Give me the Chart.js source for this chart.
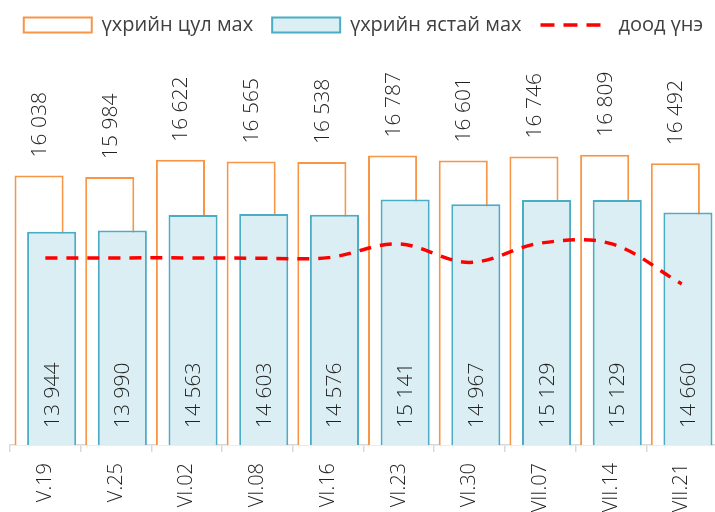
<!DOCTYPE html>
<html>
<head>
<meta charset="utf-8">
<script src="https://cdn.jsdelivr.net/npm/chart.js@4.4.1/dist/chart.umd.min.js"></script>
<style>
  html, body { margin: 0; padding: 0; overflow: hidden; background: #fff; }
  #wrap { width: 727px; height: 512px; }
</style>
</head>
<body>
<div id="wrap"><canvas id="chart" width="727" height="512"></canvas></div>
<script>
// weekly meat prices
const CATEGORIES = ['V.19', 'V.25', 'VI.02', 'VI.08', 'VI.16', 'VI.23', 'VI.30', 'VII.07', 'VII.14', 'VII.21'];
const BONELESS = [16038, 15984, 16622, 16565, 16538, 16787, 16601, 16746, 16809, 16492];
const BONE_IN = [13944, 13990, 14563, 14603, 14576, 15141, 14967, 15129, 15129, 14660];
const MIN_PRICE = [12970, 12970, 12970, 12960, 12980, 13490, 12800, 13520, 13500, 12000];

const TEXT = '#404040';
const NUM_TEXT = '#222222';
const ORANGE = '#F79646';
const BLUE = '#4BACC6';
const BLUE_FILL = '#DAEEF3';
const RED = '#FF0000';
const FONT = "'Open Sans', sans-serif";

Chart.defaults.font.family = FONT;
Chart.defaults.color = TEXT;

const fmt = v => String(v).replace(/\B(?=(\d{3})+(?!\d))/g, ' ');

function drawUp(ctx, text, x, y) {
  ctx.save();
  ctx.translate(x, y);
  ctx.rotate(-Math.PI / 2);
  ctx.fillText(text, 0, 0);
  ctx.restore();
}

// blue bars sit on the right but must be drawn over the orange ones
const blueOnTop = {
  id: 'blueOnTop',
  beforeDatasetDraw(chart, args) {
    if (args.index === 2) return false;
  },
  afterDatasetDraw(chart, args) {
    if (args.index !== 1) return;
    const a = chart.chartArea;
    const ctx = chart.ctx;
    ctx.save();
    ctx.beginPath();
    ctx.rect(a.left, a.top, a.right - a.left, a.bottom - a.top);
    ctx.clip();
    chart.getDatasetMeta(2).controller.draw();
    ctx.restore();
  }
};

const barLabels = {
  id: 'barLabels',
  afterDatasetsDraw(chart) {
    const ctx = chart.ctx;
    const bottom = chart.chartArea.bottom;
    ctx.save();
    ctx.font = '300 21px ' + FONT;
    ctx.fillStyle = NUM_TEXT;
    ctx.textAlign = 'left';
    ctx.textBaseline = 'middle';
    chart.getDatasetMeta(1).data.forEach((bar, i) => {
      drawUp(ctx, fmt(BONELESS[i]), bar.x + 1, bar.y - 18);
    });
    chart.getDatasetMeta(2).data.forEach((bar, i) => {
      drawUp(ctx, fmt(BONE_IN[i]), bar.x + 1, bottom - 17);
    });
    ctx.restore();
  }
};

const LEGEND_ORDER = [1, 2, 0];
const legendItems = chart => LEGEND_ORDER.map(i => {
  const ds = chart.data.datasets[i];
  const isLine = ds.type === 'line';
  return {
    text: ds.label,
    datasetIndex: i,
    fillStyle: isLine ? 'rgba(0,0,0,0)' : ds.backgroundColor,
    strokeStyle: ds.borderColor,
    lineWidth: ds.borderWidth,
    lineDash: isLine ? [14, 9] : [],
    pointStyle: isLine ? 'line' : 'rect',
    fontColor: TEXT,
    hidden: false
  };
});

// invisible side axes only reserve the 10px margins
const spacer = pos => ({
  position: pos,
  display: true,
  ticks: { display: false },
  grid: { display: false },
  border: { display: false },
  afterFit: scale => { scale.width = 10; }
});

new Chart(document.getElementById('chart'), {
  data: {
    labels: CATEGORIES,
    datasets: [
      {
        type: 'line',
        label: 'доод үнэ',
        data: MIN_PRICE,
        borderColor: RED,
        backgroundColor: RED,
        borderWidth: 3.5,
        borderDash: [12, 9],
        pointRadius: 0,
        tension: 0.35,
        fill: false
      },
      {
        type: 'bar',
        label: 'үхрийн цул мах',
        data: BONELESS,
        backgroundColor: '#FFFFFF',
        borderColor: ORANGE,
        borderWidth: 2,
        categoryPercentage: 0.356,
        barPercentage: 3.9
      },
      {
        type: 'bar',
        label: 'үхрийн ястай мах',
        data: BONE_IN,
        backgroundColor: BLUE_FILL,
        borderColor: BLUE,
        borderWidth: 2,
        categoryPercentage: 0.356,
        barPercentage: 3.9
      }
    ]
  },
  options: {
    responsive: false,
    animation: false,
    layout: { padding: { top: -4, left: 0, right: 0, bottom: 0 } },
    scales: {
      x: {
        offset: true,
        border: { color: '#D9D9D9', width: 1.5 },
        grid: { offset: true, drawOnChartArea: false, drawTicks: true, tickLength: 7, color: '#D9D9D9', lineWidth: 1.5 },
        ticks: { autoSkip: false, minRotation: 90, maxRotation: 90, padding: 11, color: NUM_TEXT, font: { size: 20, weight: 300 } },
        afterFit: scale => { scale.height = 67; }
      },
      y: Object.assign(spacer('left'), { min: 6000, max: 20900 }),
      yRight: spacer('right')
    },
    plugins: {
      legend: {
        position: 'top',
        labels: {
          usePointStyle: true,
          pointStyleWidth: 68,
          boxWidth: 68,
          boxHeight: 15,
          padding: 19,
          color: TEXT,
          font: { size: 20 },
          generateLabels: legendItems
        },
        onClick: () => {}
      },
      tooltip: { enabled: false }
    }
  },
  plugins: [blueOnTop, barLabels]
});
</script>
</body>
</html>
